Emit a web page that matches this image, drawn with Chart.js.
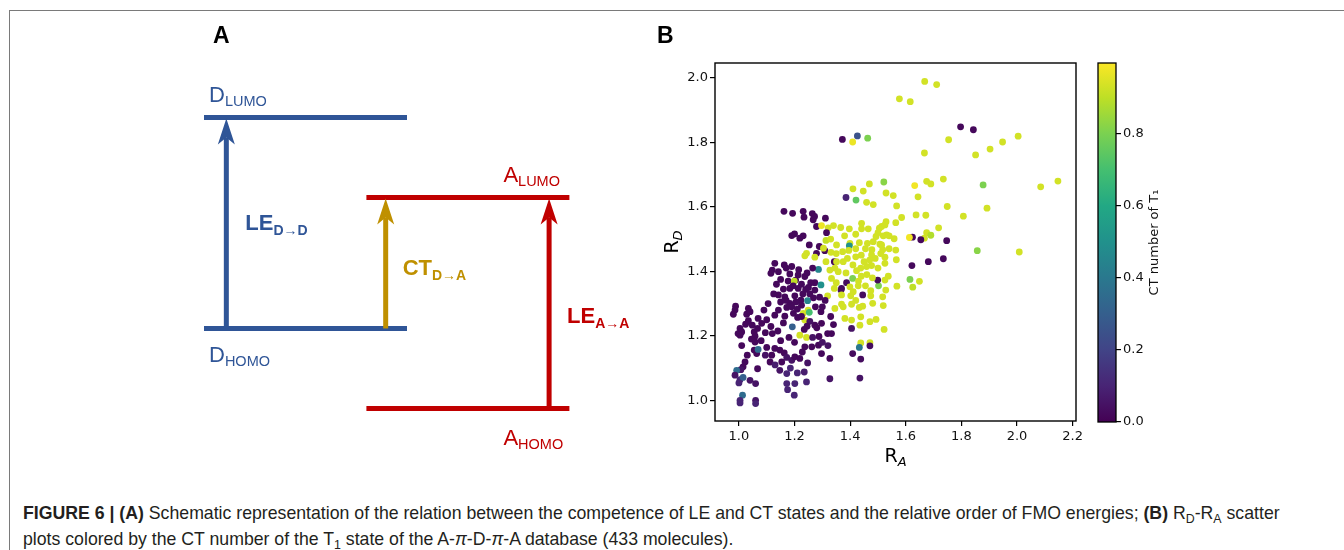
<!DOCTYPE html>
<html><head><meta charset="utf-8">
<script src="https://cdn.jsdelivr.net/npm/chart.js@4.4.1/dist/chart.umd.min.js"></script>
<style>
html,body{margin:0;padding:0;background:#fff;}
body{width:1344px;height:550px;position:relative;overflow:hidden;}
#frame{position:absolute;left:9px;top:10px;width:1340px;height:560px;border-left:1px solid #7a7a7a;border-top:1px solid #7a7a7a;}
canvas{position:absolute;}
.plabel{position:absolute;font:bold 23px "Liberation Sans",Arial,sans-serif;line-height:23px;color:#000;}
#caption{position:absolute;left:23px;top:500px;font:17.7px "Liberation Sans",Arial,sans-serif;line-height:26px;color:#231f20;white-space:nowrap;}
#caption sub{font-size:0.7em;vertical-align:-0.3em;line-height:0;}
</style></head>
<body>
<div id="frame"></div>
<canvas id="schem" width="660" height="460" style="left:0;top:0"></canvas>
<canvas id="scatter" width="450" height="420" style="left:640px;top:50px"></canvas>
<canvas id="cbar" width="110" height="420" style="left:1090px;top:50px"></canvas>
<div class="plabel" style="left:213px;top:24px">A</div>
<div class="plabel" style="left:657px;top:24px">B</div>
<div id="caption"><b>FIGURE 6 | (A)</b> Schematic representation of the relation between the competence of LE and CT states and the relative order of FMO energies; <b>(B)</b> R<sub>D</sub>-R<sub>A</sub> scatter<br>plots colored by the CT number of the T<sub>1</sub> state of the A-<i>π</i>-D-<i>π</i>-A database (433 molecules).</div>
<script>
// ================= Panel B data =================
const rA = [
1.577,1.616,1.668,1.711,1.372,1.426,1.409,1.463,1.797,1.843,
1.754,1.667,1.851,1.903,1.948,2.004,1.410,1.469,1.521,1.529,
1.555,1.567,1.385,1.421,1.459,1.483,1.447,1.632,1.675,1.690,
1.735,1.878,2.085,2.147,1.644,1.749,1.892,1.637,1.672,1.807,
1.585,1.564,1.529,1.513,1.718,1.519,1.540,1.558,1.667,1.675,
1.690,1.624,1.654,1.747,1.613,1.513,1.517,1.564,1.857,2.008,
1.525,1.566,1.622,1.681,1.735,1.537,1.525,1.615,1.649,1.625,
1.568,1.528,1.517,1.519,1.522,1.162,1.193,1.231,1.234,1.264,
1.272,1.267,1.311,1.279,1.190,1.200,1.231,1.219,1.253,1.289,
1.309,1.279,1.343,1.367,1.297,1.321,1.340,1.366,1.397,1.441,
1.465,1.505,1.525,1.313,1.351,1.399,1.433,1.462,1.483,1.507,
1.531,1.493,1.441,1.500,1.420,1.455,1.478,1.397,1.373,1.477,
1.525,1.375,1.459,1.477,1.438,1.423,1.502,1.499,1.409,1.387,
1.369,1.399,1.429,1.411,1.474,1.369,1.402,1.445,1.474,1.369,
1.405,1.433,1.445,1.481,1.381,1.405,1.438,1.471,1.493,1.405,
1.435,1.438,1.471,1.433,1.471,1.409,1.438,1.304,1.331,1.243,
1.237,1.273,1.313,1.351,1.327,1.357,1.286,1.333,1.273,1.343,
1.295,1.273,1.319,1.375,1.345,1.129,1.163,1.120,1.142,1.115,
1.183,1.213,1.237,1.204,1.177,1.199,1.183,1.213,1.240,1.142,
1.165,1.201,1.223,1.247,1.183,0.988,1.034,0.986,0.980,1.028,
1.040,1.069,1.034,1.024,1.004,0.997,1.010,1.004,1.048,1.055,
1.082,1.067,1.058,1.058,1.055,1.064,1.069,1.100,1.115,1.120,
1.129,1.142,1.165,1.172,1.196,1.211,1.129,1.147,1.163,1.172,
1.190,1.201,1.219,1.228,1.237,1.262,1.286,1.118,1.112,1.154,
1.247,1.235,1.243,1.327,1.333,1.297,1.147,1.172,1.172,1.175,
1.201,1.199,1.022,1.015,1.007,0.992,0.986,1.004,1.015,1.000,
1.040,1.060,1.067,1.013,1.004,1.060,1.060,1.004,1.327,1.435,
1.192,1.219,1.243,1.273,1.297,1.319,1.288,1.231,1.237,1.249,
1.253,1.295,1.190,1.210,1.225,1.255,1.268,1.150,1.160,1.195,
1.225,1.258,1.245,1.265,1.100,1.095,1.140,1.160,1.150,1.180,
1.200,1.235,1.255,1.300,1.310,1.330,1.340,1.280,1.265,1.300,
1.320,1.010,1.030,1.315,1.330,1.380,1.420,1.440,1.390,1.410,
1.450,1.490,1.500,1.460,1.430,1.480,1.540,1.105,1.125,1.135,
1.150,1.170,1.190,1.215,1.230,1.250,1.205,1.170,1.090,1.045,
1.080,1.095,1.130,1.185,1.210,1.225,1.275,1.290,1.245,1.350,
1.395,1.420,1.470,1.510,1.345,1.385,1.440,1.455,1.350,1.420];
const rD = [
1.935,1.926,1.989,1.979,1.809,1.820,1.801,1.813,1.848,1.839,
1.808,1.767,1.761,1.779,1.801,1.819,1.656,1.671,1.677,1.643,
1.635,1.603,1.629,1.621,1.614,1.607,1.649,1.666,1.679,1.671,
1.686,1.668,1.662,1.680,1.631,1.601,1.596,1.575,1.574,1.571,
1.567,1.551,1.554,1.539,1.535,1.510,1.510,1.501,1.503,1.520,
1.512,1.506,1.498,1.495,1.505,1.482,1.467,1.466,1.464,1.460,
1.425,1.436,1.418,1.430,1.439,1.385,1.373,1.375,1.369,1.351,
1.354,1.342,1.321,1.294,1.220,1.586,1.580,1.586,1.568,1.579,
1.570,1.560,1.565,1.539,1.511,1.516,1.510,1.503,1.482,1.477,
1.464,1.456,1.430,1.342,1.542,1.535,1.542,1.536,1.532,1.532,
1.532,1.534,1.544,1.496,1.482,1.487,1.489,1.487,1.492,1.484,
1.513,1.508,1.549,1.520,1.515,1.470,1.467,1.479,1.461,1.451,
1.444,1.430,1.415,1.418,1.410,1.402,1.355,1.373,1.378,1.365,
1.347,1.352,1.355,1.337,1.340,1.327,1.324,1.327,1.324,1.298,
1.298,1.288,1.292,1.301,1.254,1.249,1.259,1.244,1.251,1.223,
1.233,1.178,1.179,1.164,1.169,1.145,1.128,1.472,1.459,1.456,
1.448,1.444,1.430,1.430,1.404,1.399,1.406,1.378,1.365,1.347,
1.358,1.342,1.324,1.290,1.285,1.425,1.420,1.404,1.399,1.394,
1.392,1.389,1.384,1.373,1.370,1.370,1.347,1.347,1.344,1.327,
1.321,1.324,1.311,1.309,1.301,1.292,1.285,1.280,1.267,1.267,
1.275,1.254,1.247,1.236,1.223,1.207,1.212,1.202,1.233,1.212,
1.239,1.223,1.199,1.181,1.156,1.145,1.158,1.164,1.229,1.207,
1.264,1.280,1.261,1.288,1.270,1.257,1.161,1.156,1.147,1.133,
1.124,1.135,1.130,1.150,1.166,1.166,1.171,1.140,1.119,1.119,
1.116,1.088,1.057,1.130,1.207,1.145,1.093,1.083,1.052,1.033,
1.052,1.016,1.119,1.104,1.095,1.093,1.078,1.064,1.071,1.054,
1.062,1.052,1.098,1.016,1.000,1.000,0.990,0.992,1.067,1.069,
1.228,1.202,1.195,1.233,1.239,1.207,1.198,1.270,1.249,1.280,
1.273,1.275,1.290,1.283,1.295,1.330,1.318,1.305,1.345,1.355,
1.360,1.365,1.395,1.410,1.250,1.210,1.215,1.240,1.185,1.195,
1.180,1.220,1.245,1.290,1.310,1.260,1.235,1.225,1.195,1.180,
1.170,1.170,1.140,1.520,1.500,1.510,1.470,1.450,1.440,1.420,
1.430,1.440,1.410,1.390,1.370,1.380,1.470,1.300,1.330,1.360,
1.375,1.410,1.415,1.405,1.330,1.350,1.305,1.310,1.280,1.190,
1.185,1.140,1.110,1.100,1.085,1.260,1.290,1.320,1.230,1.455,
1.465,1.445,1.435,1.455,1.410,1.395,1.385,1.355,1.365,1.310];
const ctNumber = [
.93,.93,.93,.93,.02,.25,.97,.80,.02,.02,
.93,.93,.93,.93,.93,.93,.93,.93,.82,.93,
.93,.93,.10,.75,.93,.93,.93,.98,.93,.93,
.93,.80,.93,.93,.93,.93,.93,.93,.93,.93,
.93,.93,.93,.93,.93,.93,.93,.93,.93,.93,
.88,.02,.02,.02,.98,.93,.93,.93,.82,.93,
.93,.93,.02,.02,.02,.93,.93,.80,.93,.90,
.93,.93,.93,.93,.93,.02,.02,.02,.02,.02,
.02,.02,.02,.02,.02,.02,.02,.02,.02,.02,
.02,.02,.02,.05,.97,.93,.93,.93,.93,.93,
.93,.93,.93,.90,.93,.93,.93,.93,.93,.93,
.93,.93,.93,.93,.93,.93,.93,.50,.93,.93,
.93,.93,.93,.93,.93,.93,.80,.03,.80,.03,
.03,.93,.93,.93,.93,.93,.93,.03,.93,.93,
.93,.93,.93,.93,.93,.93,.93,.93,.93,.05,
.93,.93,.93,.40,.03,.03,.03,.93,.93,.93,
.93,.93,.93,.93,.93,.93,.45,.93,.02,.93,
.50,.02,.93,.93,.93,.02,.02,.02,.02,.02,
.02,.02,.02,.02,.02,.90,.02,.02,.02,.02,
.02,.02,.02,.45,.02,.02,.02,.02,.02,.02,
.02,.02,.02,.02,.02,.02,.02,.02,.02,.02,
.02,.02,.02,.02,.02,.02,.35,.02,.02,.02,
.02,.02,.02,.02,.02,.02,.02,.02,.02,.05,
.05,.02,.02,.02,.02,.02,.02,.02,.02,.02,
.05,.08,.10,.02,.02,.02,.05,.10,.10,.10,
.10,.10,.02,.02,.05,.35,.05,.10,.30,.10,
.05,.05,.02,.35,.10,.05,.10,.10,.05,.05,
.30,.93,.93,.02,.02,.02,.02,.93,.93,.93,
.70,.02,.02,.02,.02,.02,.02,.02,.02,.02,
.02,.02,.02,.02,.02,.02,.02,.02,.02,.02,
.02,.02,.05,.02,.02,.02,.02,.02,.05,.05,
.05,.02,.02,.02,.93,.93,.93,.93,.93,.93,
.93,.93,.93,.93,.93,.93,.93,.02,.02,.02,
.02,.02,.02,.02,.02,.02,.02,.02,.02,.02,
.02,.05,.08,.10,.10,.02,.02,.02,.02,.93,
.93,.93,.93,.93,.93,.93,.93,.93,.93,.93];
const xTicks = [1.0,1.2,1.4,1.6,1.8,2.0,2.2];
const yTicks = [1.0,1.2,1.4,1.6,1.8,2.0];
const cbTicks = [0.0,0.2,0.4,0.6,0.8];
const CB_MIN = 0, CB_MAX = 0.997;

// ================= Panel A (schematic) data =================
const levelMain   = ['D','D','A','A'];
const levelSub    = ['LUMO','HOMO','LUMO','HOMO'];
const levelEnergy = [10, 2.75, 7.25, 0];
const levelStart  = [0, 0, 1.6, 1.6];
const levelEnd    = [2, 2, 3.6, 3.6];
const transMain = ['LE','CT','LE'];
const transSub  = ['D→D','D→A','A→A'];
const transFrom = [1, 1, 3];
const transTo   = [0, 2, 2];
const transX    = [0.22, 1.79, 3.40];

// ================= styles =================
const BLUE = '#2F5597', RED = '#C00000', GOLD = '#BF9000';
const levelColor = [BLUE, BLUE, RED, RED];
const transColor = [BLUE, GOLD, RED];
const SANS = '"Liberation Sans", Arial, sans-serif';
const DJ = '"DejaVu Sans", sans-serif';

const VIR = ['#440154','#482475','#414487','#355f8d','#2a788e','#21918c','#22a884','#44bf70','#7ad151','#bddf26','#fde725'];
function hx(h){return [parseInt(h.substr(1,2),16),parseInt(h.substr(3,2),16),parseInt(h.substr(5,2),16)];}
function viridis(t){
  t = Math.max(0, Math.min(1, t));
  const f = t*10, i = Math.min(9, Math.floor(f)), u = f - i;
  const a = hx(VIR[i]), b = hx(VIR[i+1]);
  return 'rgb(' + a.map((v,k)=>Math.round(v+(b[k]-v)*u)).join(',') + ')';
}

function drawSub(ctx, main, sub, x, base, mainFont, subFont, drop, color){
  ctx.save();
  ctx.fillStyle = color; ctx.textAlign = 'left'; ctx.textBaseline = 'alphabetic';
  ctx.font = mainFont; ctx.fillText(main, x, base);
  const w = ctx.measureText(main).width;
  ctx.font = subFont; ctx.fillText(sub, x + w, base + drop);
  ctx.restore();
}

// ---------- Panel A chart ----------
const schemPlugin = {
  id: 'schem',
  afterDatasetsDraw(chart){
    const {ctx, scales:{x, y}} = chart;
    transMain.forEach((m, i) => {
      const px = x.getPixelForValue(transX[i]);
      const yTail = y.getPixelForValue(levelEnergy[transFrom[i]]);
      const yTip = y.getPixelForValue(levelEnergy[transTo[i]]) + 1;
      const headLen = 26, halfW = 8.5, notch = 19;
      ctx.save();
      ctx.strokeStyle = transColor[i]; ctx.fillStyle = transColor[i];
      ctx.lineWidth = 5; ctx.lineCap = 'butt';
      ctx.beginPath(); ctx.moveTo(px, yTail); ctx.lineTo(px, yTip + notch); ctx.stroke();
      ctx.beginPath(); ctx.moveTo(px, yTip); ctx.lineTo(px + halfW, yTip + headLen);
      ctx.lineTo(px, yTip + notch); ctx.lineTo(px - halfW, yTip + headLen); ctx.closePath(); ctx.fill();
      ctx.restore();
      const mid = (yTail + yTip) / 2;
      const dx = [19, 17, 18][i], dy = [7, 12, 19][i];
      drawSub(ctx, m, transSub[i], px + dx, mid + dy, 'bold 22px ' + SANS, 'bold 14px ' + SANS, 5, transColor[i]);
    });
    levelMain.forEach((m, i) => {
      const x0 = x.getPixelForValue(levelStart[i]);
      const py = y.getPixelForValue(levelEnergy[i]);
      const isD = m === 'D';
      const lx = isD ? x0 + 5 : x0 + 137;
      const above = levelSub[i] === 'LUMO';
      const base = above ? py - (isD ? 15.5 : 16) : py + (isD ? 33.5 : 36.5);
      drawSub(ctx, m, levelSub[i], lx, base, '22px ' + SANS, '14.5px ' + SANS, 4, levelColor[i]);
    });
  }
};

new Chart(document.getElementById('schem'), {
  type: 'scatter',
  data: { datasets: levelMain.map((m, i) => ({
    data: [{x: levelStart[i], y: levelEnergy[i]}, {x: levelEnd[i], y: levelEnergy[i]}],
    showLine: true, borderColor: levelColor[i], borderWidth: 5, borderCapStyle: 'butt',
    pointRadius: 0, fill: false
  })) },
  options: {
    responsive: false, animation: false, events: [],
    layout: { padding: 0 },
    plugins: { legend: {display: false}, tooltip: {enabled: false} },
    scales: {
      x: { type: 'linear', display: false, min: -2.0099, max: 4.4926 },
      y: { type: 'linear', display: false, min: -1.770, max: 14.038 }
    }
  },
  plugins: [schemPlugin]
});

// ---------- Panel B scatter ----------
const framePlugin = {
  id: 'frameB',
  afterDraw(chart){
    const {ctx, chartArea: a} = chart;
    ctx.save();
    ctx.strokeStyle = '#000'; ctx.lineWidth = 1.4;
    ctx.strokeRect(a.left, a.top, a.right - a.left, a.bottom - a.top);
    ctx.fillStyle = '#000';
    ctx.font = '19px ' + DJ; const wR = ctx.measureText('R').width;
    ctx.font = 'oblique 13px ' + DJ; const wS = ctx.measureText('A').width;
    const cx = (a.left + a.right) / 2, sx0 = cx - (wR + wS) / 2;
    ctx.font = '19px ' + DJ; ctx.fillText('R', sx0, a.bottom + 41);
    ctx.font = 'oblique 13px ' + DJ; ctx.fillText('A', sx0 + wR, a.bottom + 45);
    ctx.restore();
    ctx.save();
    const cy = (a.top + a.bottom) / 2;
    ctx.translate(38, cy); ctx.rotate(-Math.PI / 2);
    ctx.fillStyle = '#000';
    ctx.font = '19px ' + DJ; const wR2 = ctx.measureText('R').width;
    ctx.font = 'oblique 13px ' + DJ; const wD = ctx.measureText('D').width;
    const sx = -(wR2 + wD) / 2;
    ctx.font = '19px ' + DJ; ctx.fillText('R', sx, 0);
    ctx.font = 'oblique 13px ' + DJ; ctx.fillText('D', sx + wR2, 4);
    ctx.restore();
  }
};

const tickFont = { family: 'DejaVu Sans', size: 13 };
new Chart(document.getElementById('scatter'), {
  type: 'scatter',
  data: { datasets: [{
    data: rA.map((v, i) => ({x: v, y: rD[i]})),
    pointBackgroundColor: ctNumber.map(c => viridis((c - CB_MIN) / (CB_MAX - CB_MIN))),
    pointBorderWidth: 0, pointRadius: 3.4, pointHoverRadius: 3.4
  }] },
  options: {
    responsive: false, animation: false, events: [],
    layout: { padding: { top: 13, right: 14, left: 0, bottom: 0 } },
    plugins: { legend: {display: false}, tooltip: {enabled: false} },
    scales: {
      x: {
        type: 'linear', min: 0.914, max: 2.212,
        afterBuildTicks: s => { s.ticks = xTicks.map(v => ({value: v})); },
        afterFit: s => { s.height = 49; },
        ticks: { callback: v => v.toFixed(1), font: tickFont, color: '#111', padding: 3, maxRotation: 0, autoSkip: false },
        grid: { display: true, drawOnChartArea: false, drawTicks: true, tickLength: 5, color: '#000', lineWidth: 1.2 },
        border: { display: false }
      },
      y: {
        type: 'linear', min: 0.936, max: 2.046,
        afterBuildTicks: s => { s.ticks = yTicks.map(v => ({value: v})); },
        afterFit: s => { s.width = 75; },
        ticks: { callback: v => v.toFixed(1), font: tickFont, color: '#111', padding: 2, autoSkip: false },
        grid: { display: true, drawOnChartArea: false, drawTicks: true, tickLength: 5, color: '#000', lineWidth: 1.2 },
        border: { display: false }
      }
    }
  },
  plugins: [framePlugin]
});

// ---------- Colorbar ----------
const cbPlugin = {
  id: 'cb',
  beforeDatasetsDraw(chart){
    const {ctx, chartArea: a, scales: {y}} = chart;
    const g = ctx.createLinearGradient(0, y.getPixelForValue(0), 0, y.getPixelForValue(1));
    VIR.forEach((c, i) => g.addColorStop(i / 10, c));
    ctx.save(); ctx.fillStyle = g;
    ctx.fillRect(a.left, a.top, a.right - a.left, a.bottom - a.top);
    ctx.restore();
  },
  afterDraw(chart){
    const {ctx, chartArea: a} = chart;
    ctx.save(); ctx.strokeStyle = '#000'; ctx.lineWidth = 1.3;
    ctx.strokeRect(a.left, a.top, a.right - a.left, a.bottom - a.top);
    ctx.translate(68, (a.top + a.bottom) / 2); ctx.rotate(-Math.PI / 2);
    ctx.fillStyle = '#111'; ctx.font = '13px ' + DJ; ctx.textAlign = 'center'; ctx.textBaseline = 'alphabetic';
    ctx.fillText('CT number of T₁', 0, 0);
    ctx.restore();
  }
};
new Chart(document.getElementById('cbar'), {
  type: 'scatter',
  data: { datasets: [{ data: [] }] },
  options: {
    responsive: false, animation: false, events: [],
    layout: { padding: { top: 13, bottom: 48, left: 8, right: 0 } },
    plugins: { legend: {display: false}, tooltip: {enabled: false} },
    scales: {
      x: { type: 'linear', display: false, min: 0, max: 1 },
      y: {
        type: 'linear', position: 'right', min: CB_MIN, max: CB_MAX,
        afterBuildTicks: s => { s.ticks = cbTicks.map(v => ({value: v})); },
        afterFit: s => { s.width = 84; },
        ticks: { callback: v => v.toFixed(1), font: tickFont, color: '#111', padding: 2, autoSkip: false },
        grid: { display: true, drawOnChartArea: false, drawTicks: true, tickLength: 5, color: '#000', lineWidth: 1.2 },
        border: { display: false }
      }
    }
  },
  plugins: [cbPlugin]
});
</script>
</body></html>
